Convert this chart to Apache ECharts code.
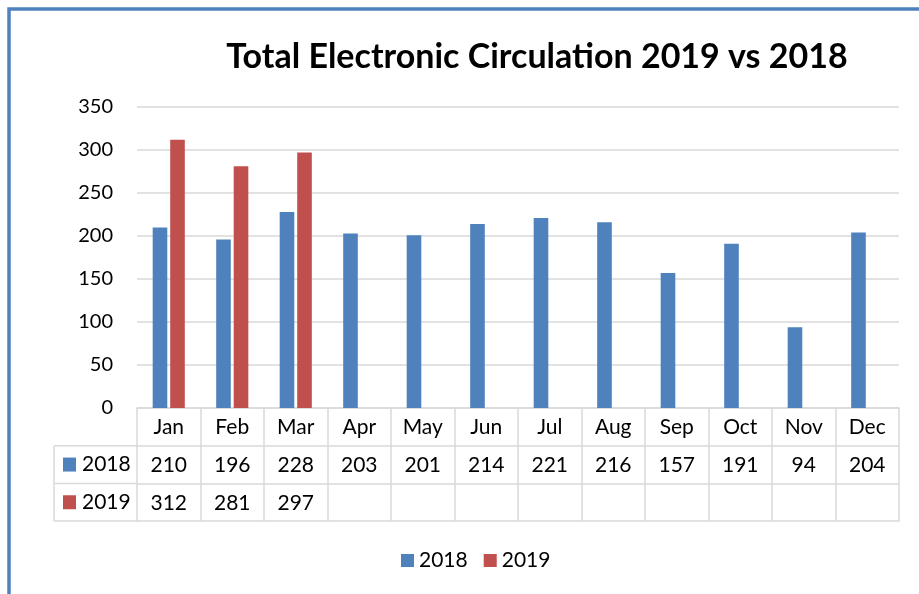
<!DOCTYPE html>
<html>
<head>
<meta charset="utf-8">
<script src="https://cdn.jsdelivr.net/npm/echarts@6/dist/echarts.min.js"></script>
<style>
  html, body { margin: 0; padding: 0; background: #fff; }
  #main { width: 919px; height: 594px; }
</style>
</head>
<body>
<div id="main"></div>
<script type="text/javascript">
    // data
    var months = ['Jan', 'Feb', 'Mar', 'Apr', 'May', 'Jun', 'Jul', 'Aug', 'Sep', 'Oct', 'Nov', 'Dec'];
    var values2018 = [210, 196, 228, 203, 201, 214, 221, 216, 157, 191, 94, 204];
    var values2019 = [312, 281, 297, null, null, null, null, null, null, null, null, null];
    var yTicks = [0, 50, 100, 150, 200, 250, 300, 350];

    var BLUE = '#4F81BD', RED = '#C0504D', GRID = '#D9D9D9';
    var FONT = 'Lato';
    // layout of plot + data table
    var gLeft = 137, gRight = 20, gTop = 107, gBottom = 186;
    var axisY = 594 - gBottom;   // y of the category axis
    var row = 37.7;              // table row height
    var tLeft = 54;              // left edge of the table

    var myChart = echarts.init(document.getElementById('main'));

    function rowAxis(offset, vals, showLabel) {
        return {
            type: 'category',
            gridIndex: 0,
            position: 'bottom',
            offset: offset,
            data: months,
            axisLine: { show: true, lineStyle: { color: GRID, width: 1.5 } },
            axisTick: { show: false },
            axisLabel: {
                show: showLabel,
                interval: 0,
                margin: 9,
                fontFamily: FONT,
                fontSize: 21,
                color: '#000',
                formatter: function (v, i) {
                    return vals && vals[i] != null ? String(vals[i]) : '';
                }
            }
        };
    }

    var legendCells = [
        { name: '2018', color: BLUE, y: axisY + row * 1.5 },
        { name: '2019', color: RED, y: axisY + row * 2.5 }
    ];
    var graphics = [
        {
            type: 'rect',
            shape: { x: 9, y: 9, width: 1000, height: 700 },
            style: { fill: 'none', stroke: BLUE, lineWidth: 3.5 },
            silent: true
        }
    ];
    [1, 2, 3].forEach(function (k) {
        graphics.push({
            type: 'line',
            shape: { x1: tLeft, y1: axisY + row * k, x2: gLeft, y2: axisY + row * k },
            style: { stroke: GRID, lineWidth: 1.5 }
        });
    });
    graphics.push({
        type: 'line',
        shape: { x1: tLeft, y1: axisY + row, x2: tLeft, y2: axisY + row * 3 },
        style: { stroke: GRID, lineWidth: 1.5 }
    });
    legendCells.forEach(function (c) {
        graphics.push({
            type: 'rect',
            shape: { x: 63, y: c.y - 7, width: 13, height: 14 },
            style: { fill: c.color }
        });
        graphics.push({
            type: 'text',
            x: 82, y: c.y,
            style: {
                text: c.name, fontFamily: FONT, fontSize: 21, fill: '#000',
                verticalAlign: 'middle', align: 'left'
            }
        });
    });

    myChart.setOption({
        animation: false,
        backgroundColor: '#fff',
        title: {
            text: 'Total Electronic Circulation 2019 vs 2018',
            left: 532,
            textAlign: 'center',
            top: 35,
            textStyle: { fontFamily: FONT, fontWeight: 'bold', fontSize: 34, color: '#000' }
        },
        legend: {
            data: ['2018', '2019'],
            top: 545,
            left: 396,
            icon: 'rect',
            itemWidth: 13,
            itemHeight: 13,
            itemGap: 16,
            textStyle: { fontFamily: FONT, fontSize: 21, color: '#000' }
        },
        grid: { left: gLeft, right: gRight, top: gTop, bottom: gBottom, containLabel: false },
        xAxis: [
            {
                type: 'category',
                data: months,
                boundaryGap: true,
                axisLine: { show: true, lineStyle: { color: GRID, width: 1.5 } },
                axisTick: { show: true, interval: 0, length: row * 3, lineStyle: { color: GRID, width: 1.5 } },
                axisLabel: {
                    interval: 0, margin: 9, fontFamily: FONT, fontSize: 21, color: '#000'
                }
            },
            rowAxis(row, values2018, true),
            rowAxis(row * 2, values2019, true),
            rowAxis(row * 3, null, false)
        ],
        yAxis: {
            type: 'value',
            min: yTicks[0],
            max: yTicks[yTicks.length - 1],
            interval: 50,
            axisLine: { show: false },
            axisTick: { show: false },
            splitLine: { lineStyle: { color: GRID, width: 1.5 } },
            axisLabel: { margin: 24, fontFamily: FONT, fontSize: 20, color: '#000' }
        },
        series: [
            {
                name: '2018', type: 'bar', xAxisIndex: 0,
                data: values2018, barWidth: '23%', barGap: '20%',
                itemStyle: { color: BLUE }
            },
            {
                name: '2019', type: 'bar', xAxisIndex: 0,
                data: values2019, barWidth: '23%', barGap: '20%',
                itemStyle: { color: RED }
            }
        ],
        graphic: graphics
    });
</script>
</body>
</html>
